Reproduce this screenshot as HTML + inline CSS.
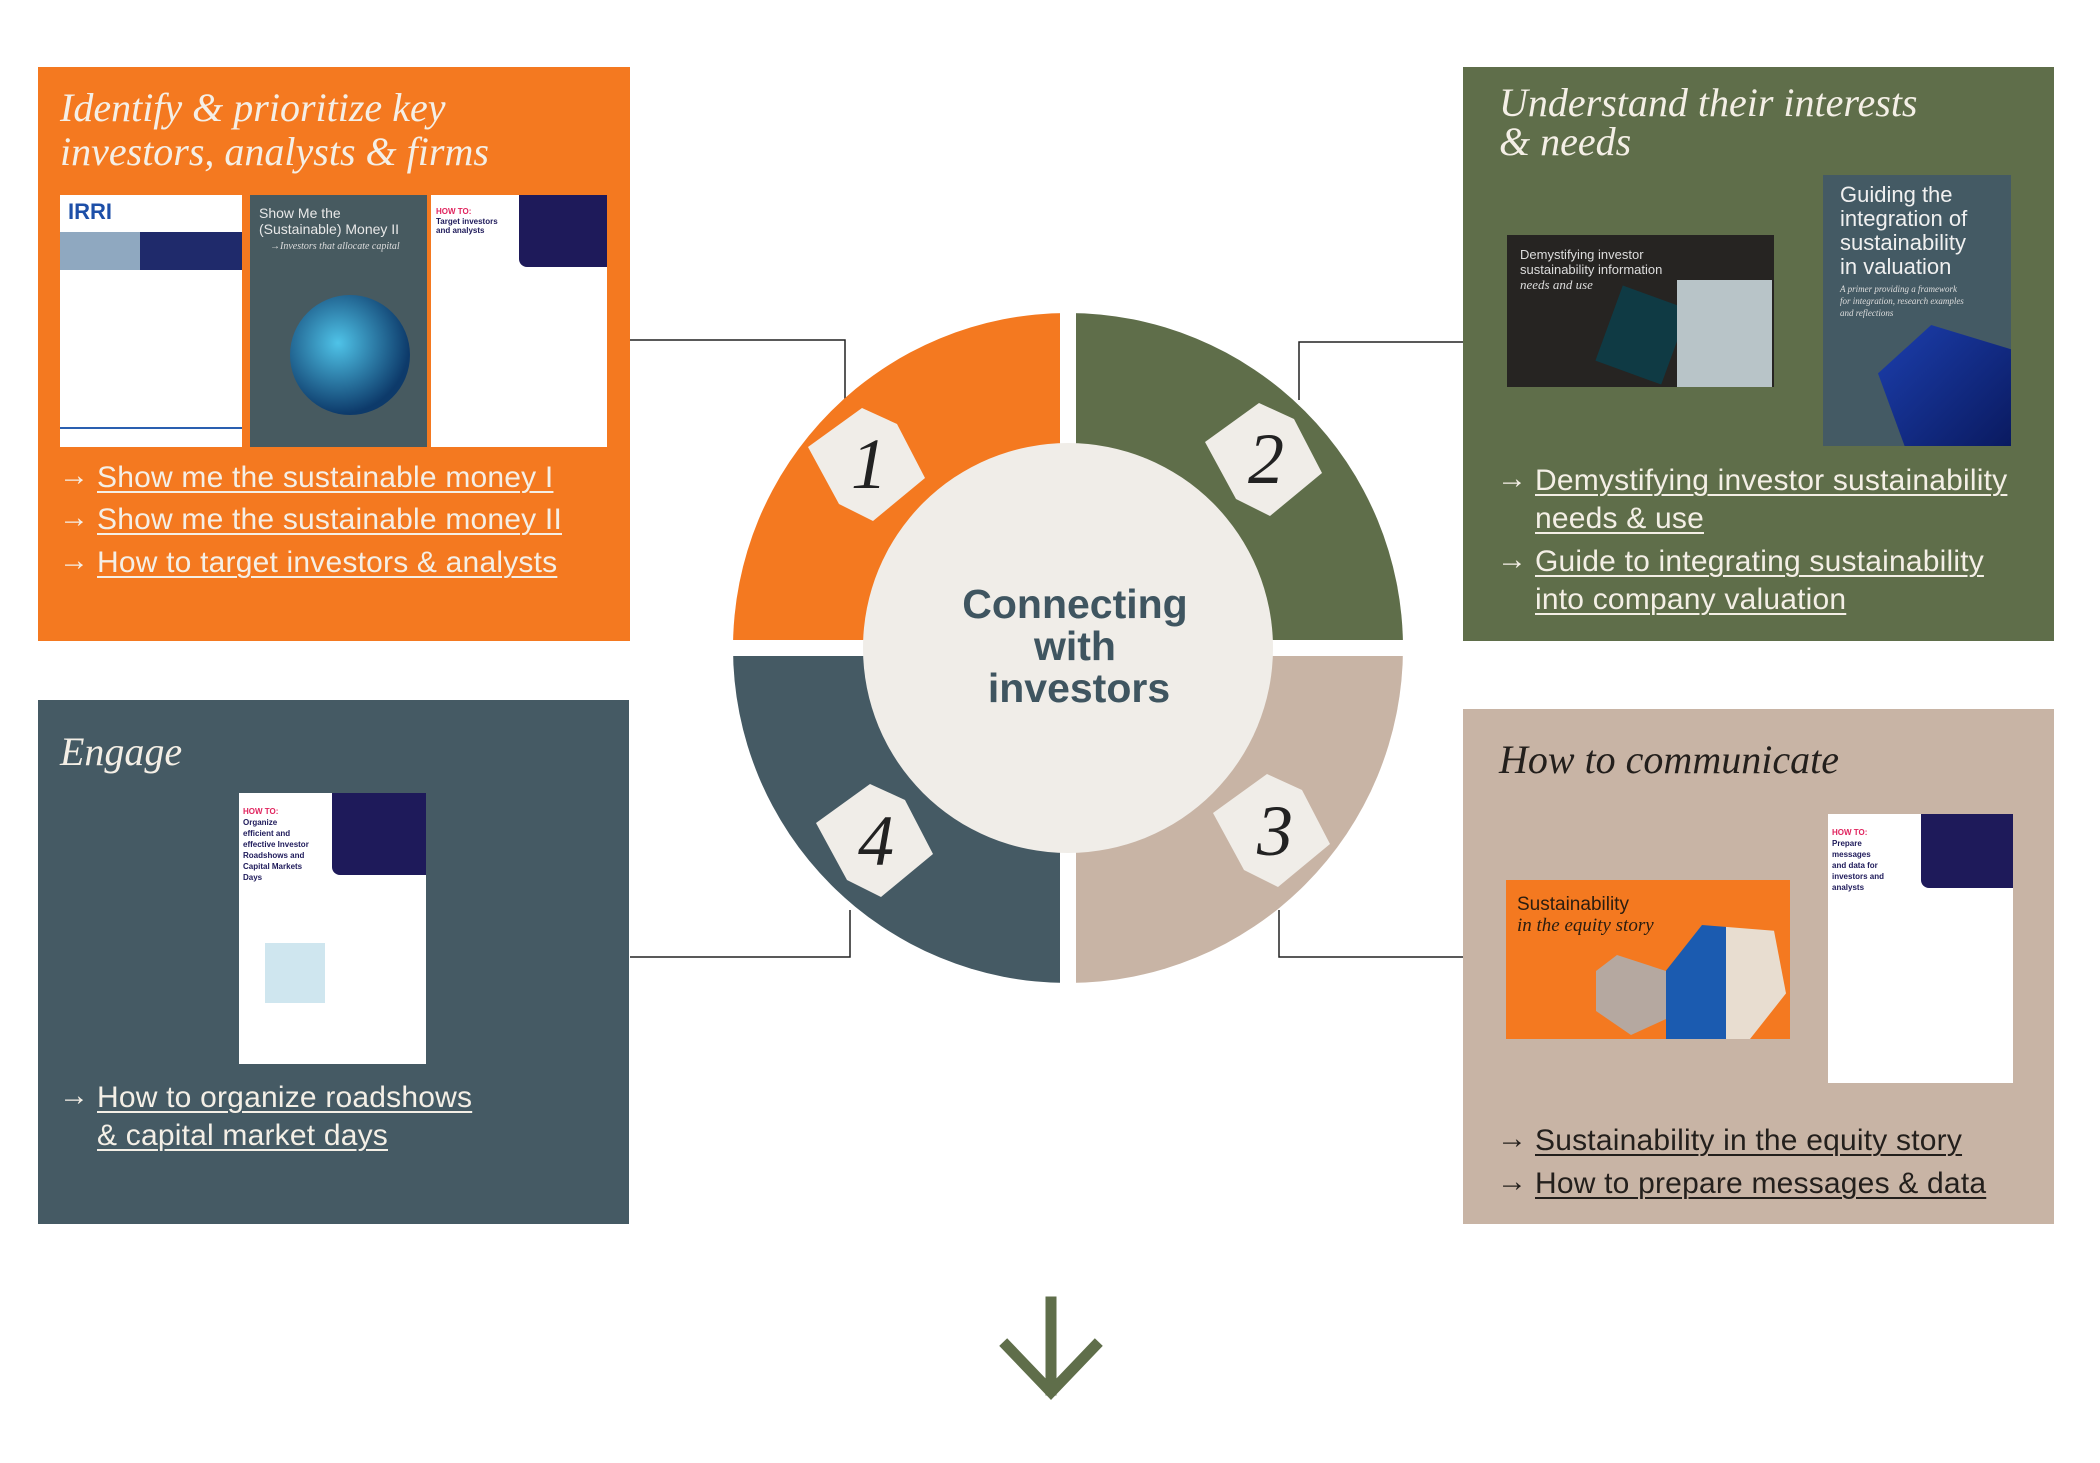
<!DOCTYPE html>
<html><head><meta charset="utf-8"><style>
*{margin:0;padding:0;box-sizing:border-box}
body{width:2100px;height:1463px;background:#fff;position:relative;overflow:hidden;font-family:"Liberation Sans",sans-serif}
.box{position:absolute}
.t{position:absolute;font-family:"Liberation Serif",serif;font-style:italic;font-size:40px;line-height:44px;color:#f4efe6;white-space:nowrap}
.lk{position:absolute;font-size:30px;line-height:38px;color:#f4efe6;white-space:nowrap;letter-spacing:0.2px}
.lk span.a{position:absolute;left:-38px;top:-2px;font-size:30px}
.lk u{text-decoration:underline;text-decoration-thickness:2px;text-underline-offset:4px}
.img{position:absolute;overflow:hidden}
.s{position:absolute;white-space:nowrap}
</style></head><body>

<svg width="2100" height="1463" style="position:absolute;left:0;top:0">
 <g fill="none" stroke="#222" stroke-width="1.5">
  <polyline points="630,340 845,340 845,405"/>
  <polyline points="1463,342 1299,342 1299,400"/>
  <polyline points="630,957 850,957 850,910"/>
  <polyline points="1463,957 1279,957 1279,910"/>
 </g>
 <path d="M1068,648 L733,648 A335,335 0 0 1 1068,313 Z" fill="#F47920"/>
 <path d="M1068,648 L1068,313 A335,335 0 0 1 1403,648 Z" fill="#5F6E4A"/>
 <path d="M1068,648 L1403,648 A335,335 0 0 1 1068,983 Z" fill="#C8B4A5"/>
 <path d="M1068,648 L1068,983 A335,335 0 0 1 733,648 Z" fill="#455A64"/>
 <rect x="1060" y="300" width="16" height="700" fill="#fff"/>
 <rect x="720" y="640" width="700" height="16" fill="#fff"/>
 <circle cx="1068" cy="648" r="205" fill="#F0EDE8"/>
 <g fill="#F0EDE8">
  <polygon transform="translate(867,464)" points="-59,-17 -5,-56 30,-40 58,14 6,57 -28,40"/>
  <polygon transform="translate(1264,459)" points="-59,-17 -5,-56 30,-40 58,14 6,57 -28,40"/>
  <polygon transform="translate(1272,830)" points="-59,-17 -5,-56 30,-40 58,14 6,57 -28,40"/>
  <polygon transform="translate(875,840)" points="-59,-17 -5,-56 30,-40 58,14 6,57 -28,40"/>
 </g>
 <g font-family="Liberation Serif,serif" font-style="italic" font-size="72" fill="#222" text-anchor="middle">
  <text x="869" y="488">1</text>
  <text x="1266" y="483">2</text>
  <text x="1275" y="855">3</text>
  <text x="876" y="865">4</text>
 </g>
 <g font-family="Liberation Sans,sans-serif" font-weight="bold" font-size="41" fill="#3F5560" text-anchor="middle">
  <text x="1075" y="618">Connecting</text>
  <text x="1075" y="660">with</text>
  <text x="1079" y="702">investors</text>
 </g>
 <g stroke="#5F6E4A" stroke-width="11" fill="none" stroke-linecap="square">
  <line x1="1051" y1="1302" x2="1051" y2="1390"/>
  <polyline points="1007,1346 1051,1392 1095,1346"/>
 </g>
</svg>

<!-- Box 1 orange -->
<div class="box" style="left:38px;top:67px;width:592px;height:574px;background:#F47920"></div>
<div class="t" style="left:60px;top:86px">Identify &amp; prioritize key<br>investors, analysts &amp; firms</div>
<div class="img" style="left:60px;top:195px;width:182px;height:252px;background:#fff">
 <div class="s" style="left:8px;top:4px;font-weight:bold;font-size:22px;color:#1d4fa8">IRRI</div>
 <div style="position:absolute;left:0;top:37px;width:182px;height:38px;background:#1f2a6b"></div>
 <div style="position:absolute;left:0;top:37px;width:80px;height:38px;background:#8fa8c0"></div>
 <div style="position:absolute;left:0;top:232px;width:182px;height:2px;background:#2a5fb0"></div>
</div>
<div class="img" style="left:250px;top:195px;width:177px;height:252px;background:#475a60">
 <div class="s" style="left:9px;top:10px;font-size:14px;color:#e8e8e8;line-height:16px">Show Me the<br>(Sustainable) Money II</div>
 <div class="s" style="left:20px;top:46px;font-size:10px;font-family:'Liberation Serif',serif;font-style:italic;color:#ddd">→Investors that allocate capital</div>
 <div style="position:absolute;left:40px;top:100px;width:120px;height:120px;border-radius:50%;background:radial-gradient(circle at 40% 40%,#4fc3e8,#0d3a6a 70%)"></div>
</div>
<div class="img" style="left:431px;top:195px;width:176px;height:252px;background:#fff">
 <div style="position:absolute;left:88px;top:0;width:88px;height:72px;background:#1e1a5a;border-bottom-left-radius:8px"></div>
 <div class="s" style="left:5px;top:12px;font-size:8px;font-weight:bold;color:#e0245e">HOW TO:</div>
 <div class="s" style="left:5px;top:22px;font-size:8px;font-weight:bold;color:#1e1a5a;line-height:9px">Target investors<br>and analysts</div>
</div>
<div class="lk" style="left:97px;top:459px"><span class="a">→</span><u>Show me the sustainable money I</u></div>
<div class="lk" style="left:97px;top:501px"><span class="a">→</span><u>Show me the sustainable money II</u></div>
<div class="lk" style="left:97px;top:544px"><span class="a">→</span><u>How to target investors &amp; analysts</u></div>

<!-- Box 2 green -->
<div class="box" style="left:1463px;top:67px;width:591px;height:574px;background:#5F6E4A"></div>
<div class="t" style="left:1499px;top:83px;line-height:39px">Understand their interests<br>&amp; needs</div>
<div class="img" style="left:1507px;top:235px;width:267px;height:152px;background:#262422">
 <div class="s" style="left:13px;top:12px;font-size:13px;color:#ddd;line-height:15px">Demystifying investor<br>sustainability information<br><i style="font-family:'Liberation Serif',serif">needs and use</i></div>
 <div style="position:absolute;left:100px;top:60px;width:70px;height:80px;background:#0f3a44;transform:rotate(20deg)"></div>
 <div style="position:absolute;left:170px;top:45px;width:95px;height:107px;background:#b8c4c8"></div>
</div>
<div class="img" style="left:1823px;top:175px;width:188px;height:271px;background:#445a64">
 <div class="s" style="left:17px;top:8px;font-size:22px;color:#f0f0f0;line-height:24px">Guiding the<br>integration of<br>sustainability<br>in valuation</div>
 <div class="s" style="left:17px;top:108px;font-size:9px;font-family:'Liberation Serif',serif;font-style:italic;color:#ddd;line-height:12px">A primer providing a framework<br>for integration, research examples<br>and reflections</div>
 <div style="position:absolute;left:55px;top:150px;width:133px;height:121px;background:linear-gradient(135deg,#1c3fae,#0a1a60);clip-path:polygon(40% 0,100% 20%,100% 100%,20% 100%,0 40%)"></div>
</div>
<div class="lk" style="left:1535px;top:462px;line-height:38px"><span class="a">→</span><u>Demystifying investor sustainability<br>needs &amp; use</u></div>
<div class="lk" style="left:1535px;top:543px;line-height:38px"><span class="a">→</span><u>Guide to integrating sustainability<br>into company valuation</u></div>

<!-- Box 4 slate -->
<div class="box" style="left:38px;top:700px;width:591px;height:524px;background:#455A64"></div>
<div class="t" style="left:60px;top:730px">Engage</div>
<div class="img" style="left:239px;top:793px;width:187px;height:271px;background:#fff">
 <div style="position:absolute;left:93px;top:0;width:94px;height:82px;background:#1e1a5a;border-bottom-left-radius:8px"></div>
 <div class="s" style="left:4px;top:14px;font-size:8px;font-weight:bold;color:#e0245e">HOW TO:</div>
 <div class="s" style="left:4px;top:24px;font-size:8px;font-weight:bold;color:#1e1a5a;line-height:11px">Organize<br>efficient and<br>effective Investor<br>Roadshows and<br>Capital Markets<br>Days</div>
 <div style="position:absolute;left:26px;top:150px;width:60px;height:60px;background:#cfe6ef"></div>
</div>
<div class="lk" style="left:97px;top:1079px;line-height:38px"><span class="a">→</span><u>How to organize roadshows<br>&amp; capital market days</u></div>

<!-- Box 3 tan -->
<div class="box" style="left:1463px;top:709px;width:591px;height:515px;background:#C8B4A5"></div>
<div class="t" style="left:1499px;top:738px;color:#231f1c">How to communicate</div>
<div class="img" style="left:1506px;top:880px;width:284px;height:159px;background:#F47920">
 <div class="s" style="left:11px;top:14px;font-size:19px;color:#2a1d10;line-height:21px">Sustainability<br><i style="font-family:'Liberation Serif',serif">in the equity story</i></div>
 <div style="position:absolute;left:90px;top:75px;width:70px;height:80px;background:#b5a8a0;clip-path:polygon(30% 0,100% 20%,100% 80%,50% 100%,0 70%,0 20%)"></div>
 <div style="position:absolute;left:160px;top:45px;width:120px;height:114px;background:linear-gradient(90deg,#1b5bb0 50%,#e8ddd0 50%);clip-path:polygon(30% 0,90% 5%,100% 60%,70% 100%,0 100%,0 40%)"></div>
</div>
<div class="img" style="left:1828px;top:814px;width:185px;height:269px;background:#fff">
 <div style="position:absolute;left:93px;top:0;width:92px;height:74px;background:#1e1a5a;border-bottom-left-radius:8px"></div>
 <div class="s" style="left:4px;top:14px;font-size:8px;font-weight:bold;color:#e0245e">HOW TO:</div>
 <div class="s" style="left:4px;top:24px;font-size:8px;font-weight:bold;color:#1e1a5a;line-height:11px">Prepare<br>messages<br>and data for<br>investors and<br>analysts</div>
</div>
<div class="lk" style="left:1535px;top:1122px;color:#231f1c"><span class="a">→</span><u>Sustainability in the equity story</u></div>
<div class="lk" style="left:1535px;top:1165px;color:#231f1c"><span class="a">→</span><u>How to prepare messages &amp; data</u></div>

</body></html>
